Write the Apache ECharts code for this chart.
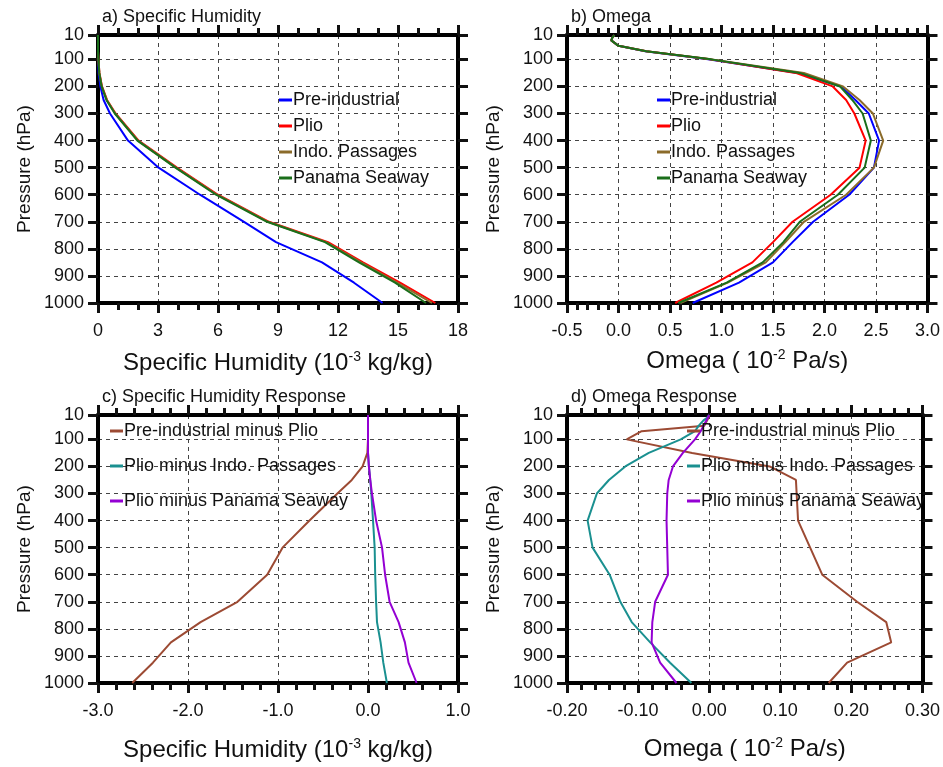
<!DOCTYPE html>
<html>
<head>
<meta charset="utf-8">
<script src="https://cdn.jsdelivr.net/npm/echarts@6/dist/echarts.min.js"></script>
<style>
  html, body { margin: 0; padding: 0; background: #fff; }
  #main { width: 943px; height: 767px; }
</style>
</head>
<body>
<div id="main"></div>
<script>
// pressure levels (hPa)
var levels = [10, 20, 30, 50, 70, 100, 150, 200, 250, 300, 400, 500, 600, 700, 775, 850, 925, 1000];
var pressureTicks = [10, 100, 200, 300, 400, 500, 600, 700, 800, 900, 1000];

// a) specific humidity (10^-3 kg/kg)
var qPreInd  = [0, 0, 0, 0, 0, 0.01, 0.03, 0.12, 0.28, 0.6, 1.5, 3.03, 5.1, 7.3, 8.9, 11.2, 12.8, 14.23];
var qPlio    = [0, 0, 0, 0, 0, 0.02, 0.07, 0.2, 0.45, 0.88, 2.03, 3.95, 6.0, 8.55, 11.5, 13.25, 15.1, 16.87];
var qIndo    = [0, 0, 0, 0, 0, 0.02, 0.07, 0.19, 0.44, 0.86, 2.0, 3.9, 5.95, 8.5, 11.4, 13.15, 14.95, 16.7];
var qPanama  = [0, 0, 0, 0, 0, 0.02, 0.06, 0.18, 0.42, 0.84, 1.97, 3.87, 5.9, 8.45, 11.35, 13.05, 14.85, 16.4];

// b) omega (10^-2 Pa/s)
var wPreInd  = [-0.04, -0.06, -0.07, 0.0, 0.26, 0.87, 1.74, 2.16, 2.3, 2.43, 2.53, 2.48, 2.24, 1.89, 1.69, 1.5, 1.17, 0.72];
var wPlio    = [-0.04, -0.06, -0.07, 0.0, 0.27, 0.89, 1.72, 2.08, 2.21, 2.29, 2.4, 2.34, 2.06, 1.69, 1.5, 1.3, 0.95, 0.55];
var wIndo    = [-0.04, -0.06, -0.07, 0.0, 0.27, 0.89, 1.8, 2.18, 2.34, 2.47, 2.57, 2.48, 2.21, 1.8, 1.62, 1.43, 1.06, 0.6];
var wPanama  = [-0.04, -0.06, -0.07, 0.0, 0.27, 0.9, 1.76, 2.15, 2.27, 2.37, 2.45, 2.39, 2.13, 1.76, 1.6, 1.4, 1.05, 0.58];

// c) specific humidity response
var dqPI     = [0, 0, 0, 0, 0, 0, -0.007, -0.06, -0.18, -0.34, -0.65, -0.95, -1.12, -1.45, -1.86, -2.19, -2.39, -2.62];
var dqIndo   = [0, 0, 0, 0, 0, 0, 0, 0.01, 0.025, 0.037, 0.056, 0.074, 0.08, 0.09, 0.1, 0.14, 0.17, 0.21];
var dqPanama = [0, 0, 0, 0, 0, 0, 0, 0.01, 0.025, 0.044, 0.09, 0.156, 0.19, 0.24, 0.34, 0.41, 0.45, 0.54];

// d) omega response
var dwPI     = [0, -0.001, -0.003, -0.007, -0.095, -0.116, -0.024, 0.085, 0.122, 0.123, 0.125, 0.142, 0.159, 0.208, 0.249, 0.256, 0.194, 0.168];
var dwIndo   = [0, -0.003, -0.008, -0.015, -0.02, -0.04, -0.085, -0.118, -0.141, -0.158, -0.171, -0.164, -0.14, -0.125, -0.109, -0.083, -0.055, -0.025];
var dwPanama = [0, -0.002, -0.004, -0.008, -0.012, -0.02, -0.037, -0.051, -0.057, -0.059, -0.06, -0.059, -0.058, -0.076, -0.08, -0.081, -0.069, -0.046];

var FONT = "'Liberation Sans', Arial, Helvetica, sans-serif";

var panels = [
    {
        title: 'a) Specific Humidity',
        grid: { left: 98, top: 35, width: 360, height: 268 },
        x: { min: 0, max: 18, interval: 3, minor: 3, dec: 0 },
        xname: ['Specific Humidity (10', '-3', ' kg/kg)'],
        nameGap: 47,
        legend: { left: 274, top: 86, gap: 8 },
        lines: [
            { name: 'Pre-industrial', color: '#0000ff', data: qPreInd },
            { name: 'Plio', color: '#ff0000', data: qPlio },
            { name: 'Indo. Passages', color: '#8b6b2a', data: qIndo },
            { name: 'Panama Seaway', color: '#1a6e1a', data: qPanama }
        ]
    },
    {
        title: 'b) Omega',
        grid: { left: 567, top: 35, width: 361, height: 268 },
        x: { min: -0.5, max: 3.0, interval: 0.5, minor: 5, dec: 1 },
        xname: ['Omega ( 10', '-2', ' Pa/s)'],
        nameGap: 45,
        legend: { left: 652, top: 86, gap: 8 },
        lines: [
            { name: 'Pre-industrial', color: '#0000ff', data: wPreInd },
            { name: 'Plio', color: '#ff0000', data: wPlio },
            { name: 'Indo. Passages', color: '#8b6b2a', data: wIndo },
            { name: 'Panama Seaway', color: '#1a6e1a', data: wPanama }
        ]
    },
    {
        title: 'c) Specific Humidity Response',
        grid: { left: 98, top: 415, width: 360, height: 268 },
        x: { min: -3, max: 1, interval: 1, minor: 5, dec: 1 },
        xname: ['Specific Humidity (10', '-3', ' kg/kg)'],
        nameGap: 54,
        legend: { left: 105, top: 417, gap: 17 },
        lines: [
            { name: 'Pre-industrial minus Plio', color: '#9c4a33', data: dqPI },
            { name: 'Plio minus Indo. Passages', color: '#1a9090', data: dqIndo },
            { name: 'Plio minus Panama Seaway', color: '#9400d3', data: dqPanama }
        ]
    },
    {
        title: 'd) Omega Response',
        grid: { left: 567, top: 415, width: 361, height: 268 },
        x: { min: -0.2, max: 0.3, interval: 0.1, minor: 5, dec: 2 },
        xname: ['Omega ( 10', '-2', ' Pa/s)'],
        nameGap: 53,
        legend: { left: 682, top: 417, gap: 17 },
        lines: [
            { name: 'Pre-industrial minus Plio', color: '#9c4a33', data: dwPI },
            { name: 'Plio minus Indo. Passages', color: '#1a9090', data: dwIndo },
            { name: 'Plio minus Panama Seaway', color: '#9400d3', data: dwPanama }
        ]
    }
];

var TICK = '#111111';

// fresh style objects for every axis
function axisLine() { return { show: true, onZero: false, lineStyle: { color: '#000', width: 4 } }; }
function majorTick(values) { return { show: true, length: 10, customValues: values, lineStyle: { color: TICK, width: 3 } }; }
function minorTick(n) { return { show: true, splitNumber: n, length: 7, lineStyle: { color: TICK, width: 3 } }; }
function gridLine() { return { show: true, lineStyle: { color: '#444', width: 1, type: [4, 4] } }; }

// major tick positions along an x axis
function majorValues(x) {
    var out = [];
    var n = Math.round((x.max - x.min) / x.interval);
    for (var k = 0; k <= n; k++) out.push(Math.round((x.min + k * x.interval) * 1e6) / 1e6);
    return out;
}

var option = {
    animation: false,
    backgroundColor: '#fff',
    title: [], grid: [], xAxis: [], yAxis: [], legend: [], series: []
};

panels.forEach(function (p, i) {
    option.title.push({
        text: p.title,
        left: p.grid.left - 1,
        top: p.grid.top - 32,
        textStyle: { fontFamily: FONT, fontSize: 18, fontWeight: 'normal', color: '#111' }
    });
    option.grid.push(p.grid);

    var xt = majorValues(p.x);
    var xi = option.xAxis.length;
    option.xAxis.push({
        type: 'value', gridIndex: i, position: 'bottom',
        min: p.x.min, max: p.x.max, interval: p.x.interval,
        axisLine: axisLine(), axisTick: majorTick(xt), minorTick: minorTick(p.x.minor),
        splitLine: gridLine(),
        axisLabel: {
            margin: 19, fontSize: 18, color: '#111', fontFamily: FONT,
            formatter: function (v) { return v.toFixed(p.x.dec); }
        },
        name: '{t|' + p.xname[0] + '}{s|' + p.xname[1] + '}{t|' + p.xname[2] + '}',
        nameLocation: 'middle', nameGap: p.nameGap,
        nameTextStyle: {
            rich: {
                t: { fontSize: 24, color: '#111', fontFamily: FONT },
                s: { fontSize: 14, color: '#111', fontFamily: FONT, padding: [0, 0, 12, 0] }
            }
        }
    });
    option.xAxis.push({
        type: 'value', gridIndex: i, position: 'top',
        min: p.x.min, max: p.x.max, interval: p.x.interval,
        axisLine: axisLine(), axisTick: majorTick(xt), minorTick: minorTick(p.x.minor),
        splitLine: { show: false }, axisLabel: { show: false }
    });

    var yi = option.yAxis.length;
    option.yAxis.push({
        type: 'value', gridIndex: i, position: 'left', inverse: true,
        min: 10, max: 1000,
        axisLine: axisLine(), axisTick: majorTick(pressureTicks),
        splitLine: gridLine(),
        axisLabel: {
            customValues: pressureTicks, margin: 14, fontSize: 18, color: '#111', fontFamily: FONT,
            formatter: function (v) { return String(v); }
        },
        name: 'Pressure (hPa)', nameLocation: 'middle', nameGap: 64,
        nameTextStyle: { fontSize: 19, color: '#111', fontFamily: FONT }
    });
    option.yAxis.push({
        type: 'value', gridIndex: i, position: 'right', inverse: true,
        min: 10, max: 1000,
        axisLine: axisLine(), axisTick: majorTick(pressureTicks),
        splitLine: { show: false },
        axisLabel: { show: false, customValues: pressureTicks }
    });

    option.legend.push({
        left: p.legend.left, top: p.legend.top, orient: 'vertical',
        itemGap: p.legend.gap, itemWidth: 13, itemHeight: 3, icon: 'rect',
        selectedMode: false,
        textStyle: { fontSize: 18, color: '#111', fontFamily: FONT, padding: [0, 0, 0, -4] },
        data: p.lines.map(function (l) { return { name: l.name, itemStyle: { color: l.color } }; })
    });

    p.lines.forEach(function (l) {
        option.series.push({
            name: l.name, type: 'line',
            xAxisIndex: xi, yAxisIndex: yi,
            showSymbol: false, symbol: 'none',
            color: l.color,
            lineStyle: { color: l.color, width: 2 },
            data: l.data.map(function (v, k) { return [v, levels[k]]; })
        });
    });
});

var myChart = echarts.init(document.getElementById('main'));
myChart.setOption(option);
</script>
</body>
</html>
